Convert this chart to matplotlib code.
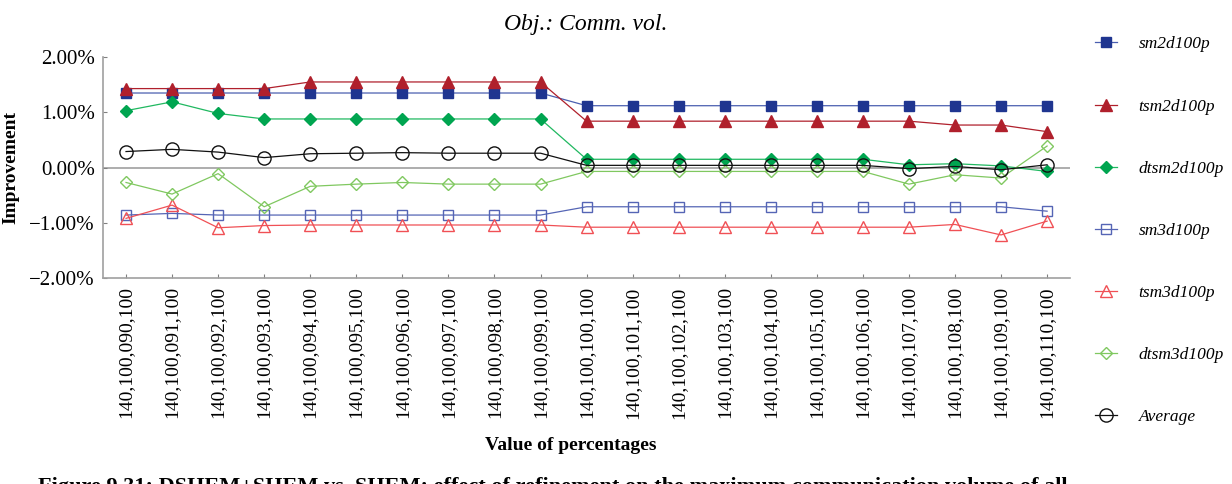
import numpy as np
import matplotlib.pyplot as plt

# Categories (value of percentages)
labels = ['140,100,%03d,100' % v for v in range(90, 111)]

# Improvement (%) per series
sm2d100p = [1.35, 1.35, 1.35, 1.35, 1.35, 1.35, 1.35, 1.35, 1.35, 1.35,
            1.12, 1.12, 1.12, 1.12, 1.12, 1.12, 1.12, 1.12, 1.12, 1.12, 1.12]
tsm2d100p = [1.43, 1.43, 1.43, 1.43, 1.55, 1.55, 1.55, 1.55, 1.55, 1.55,
             0.84, 0.84, 0.84, 0.84, 0.84, 0.84, 0.84, 0.84, 0.77, 0.77, 0.65]
dtsm2d100p = [1.03, 1.19, 0.98, 0.88, 0.88, 0.88, 0.88, 0.88, 0.88, 0.88,
              0.15, 0.15, 0.15, 0.15, 0.15, 0.15, 0.15, 0.05, 0.07, 0.03, -0.07]
sm3d100p = [-0.86, -0.83, -0.86, -0.86, -0.86, -0.86, -0.86, -0.86, -0.86, -0.86,
            -0.71, -0.71, -0.71, -0.71, -0.71, -0.71, -0.71, -0.71, -0.71, -0.71, -0.79]
tsm3d100p = [-0.92, -0.68, -1.09, -1.05, -1.04, -1.04, -1.04, -1.04, -1.04, -1.04,
             -1.08, -1.08, -1.08, -1.08, -1.08, -1.08, -1.08, -1.08, -1.03, -1.22, -0.97]
dtsm3d100p = [-0.27, -0.48, -0.11, -0.71, -0.34, -0.30, -0.27, -0.30, -0.30, -0.30,
              -0.07, -0.07, -0.07, -0.07, -0.07, -0.07, -0.07, -0.30, -0.13, -0.19, 0.39]
average = [0.29, 0.33, 0.28, 0.18, 0.25, 0.26, 0.27, 0.26, 0.26, 0.26,
           0.04, 0.04, 0.04, 0.04, 0.04, 0.04, 0.04, -0.02, 0.02, -0.04, 0.05]

plt.rcParams['font.family'] = ['Liberation Serif', 'DejaVu Serif']

fig = plt.figure(figsize=(12.32, 4.84), dpi=100)
ax = fig.add_axes([0.0836, 0.4256, 0.785, 0.4564])

x = np.arange(len(labels))
series = [
    (sm2d100p, 'sm2d100p', 's', '#4a5fb0', '#1f3590', True, 7),
    (tsm2d100p, 'tsm2d100p', '^', '#b0202c', '#b0202c', True, 8),
    (dtsm2d100p, 'dtsm2d100p', 'D', '#20b860', '#00a550', True, 6.5),
    (sm3d100p, 'sm3d100p', 's', '#5565b5', '#5565b5', False, 7),
    (tsm3d100p, 'tsm3d100p', '^', '#f05055', '#f05055', False, 8),
    (dtsm3d100p, 'dtsm3d100p', 'D', '#80c860', '#80c860', False, 6.5),
    (average, 'Average', 'o', '#111111', '#111111', False, 9.5),
]
for vals, name, mk, lc, mc, filled, ms in series:
    ax.plot(x, vals, color=lc, lw=0.9, marker=mk, markersize=ms,
            markerfacecolor=mc if filled else 'none', markeredgecolor=mc,
            markeredgewidth=1.0, label=name, zorder=3)

ax.axhline(0, color='#a0a0a0', lw=1.2, zorder=1)
ax.set_xlim(-0.5, len(labels) - 0.5)
ax.set_ylim(-2, 2)
ax.set_yticks([-2, -1, 0, 1, 2])
ax.set_yticklabels(['\u22122.00%', '\u22121.00%', '0.00%', '1.00%', '2.00%'], fontsize=15)
ax.set_xticks(x)
ax.set_xticklabels(labels, rotation=90, fontsize=14)
ax.tick_params(axis='both', direction='in', length=3, color='#808080', pad=6)

for side in ['top', 'right']:
    ax.spines[side].set_visible(False)
for side in ['left', 'bottom']:
    ax.spines[side].set_color('#a0a0a0')
    ax.spines[side].set_linewidth(1.2)

ax.set_ylabel('Improvement', fontsize=14, fontweight='bold')
ax.yaxis.set_label_coords(-0.086, 0.5)
ax.set_xlabel('Value of percentages', fontsize=14, fontweight='bold')
ax.xaxis.set_label_coords(0.484, -0.72)

# first title line sits mostly above the visible area, as in the source
fig.text(0.475, 0.999, '(Refining) vs. (Obj. func.)', fontsize=17, style='italic',
         ha='center', va='bottom')
fig.text(0.475, 0.95, 'Obj.: Comm. vol.', fontsize=17, style='italic',
         ha='center', va='center')

leg = fig.legend(loc='upper left', bbox_to_anchor=(0.882, 0.943), frameon=False,
                 fontsize=12.5, handlelength=1.25, handletextpad=1.25,
                 labelspacing=2.65, borderpad=0)
for t in leg.get_texts():
    t.set_style('italic')

fig.text(0.031, 0.0145, 'Figure 9.31: DSHEM+SHEM vs. SHEM: effect of refinement on the '
         'maximum communication volume of all', fontsize=16, fontweight='bold',
         ha='left', va='top')

fig.savefig('out.png', dpi=100)
